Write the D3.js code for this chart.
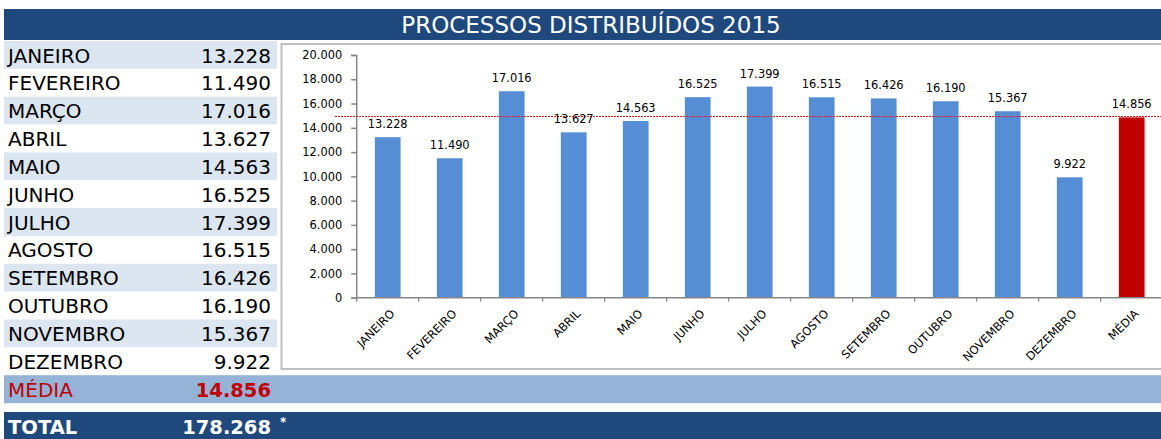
<!DOCTYPE html>
<html>
<head>
<meta charset="utf-8">
<script src="https://cdn.jsdelivr.net/npm/d3@7"></script>
<style>
  body { margin: 0; background: #fff; }
  svg { display: block; font-family: "DejaVu Sans", sans-serif; }
</style>
</head>
<body>
<svg id="chart" width="1161" height="439"></svg>
<script>
// data
const title = "PROCESSOS DISTRIBUÍDOS 2015"
const months = ["JANEIRO", "FEVEREIRO", "MARÇO", "ABRIL", "MAIO", "JUNHO", "JULHO",
  "AGOSTO", "SETEMBRO", "OUTUBRO", "NOVEMBRO", "DEZEMBRO"]
const values = [13228, 11490, 17016, 13627, 14563, 16525, 17399, 16515, 16426, 16190, 15367, 9922]
const mediaLabel = "MÉDIA"
const media = 14856
const total = 178268
const yTicks = [0, 2000, 4000, 6000, 8000, 10000, 12000, 14000, 16000, 18000, 20000]

const br = d3.formatLocale({decimal: ",", thousands: ".", grouping: [3], currency: ["R$", ""]})
const fmt = br.format(",d")

const navy = "#1f497d", light = "#dce6f1", mid = "#95b3d7", blue = "#558ed5", red = "#c00000"

const svg = d3.select("#chart")

// title bar
svg.append("rect").attr("x", 4).attr("y", 9).attr("width", 1157).attr("height", 31).attr("fill", navy)
svg.append("text").attr("x", 591).attr("y", 33).attr("text-anchor", "middle")
  .attr("fill", "#fff").attr("font-size", 23).text(title)

// left table
const rowTop = 41, rowH = 27.85
const table = months.map((m, i) => ({label: m, value: values[i]}))
const rows = svg.append("g").selectAll("g").data(table).enter().append("g")
  .attr("transform", (d, i) => `translate(0, ${rowTop + i * rowH})`)
rows.append("rect").attr("x", 4).attr("width", 273).attr("height", rowH)
  .attr("fill", (d, i) => i % 2 == 0 ? light : "#fff")
rows.append("text").attr("x", 8).attr("y", 21.5).attr("font-size", 20).attr("fill", "#000").text(d => d.label)
rows.append("text").attr("x", 271).attr("y", 21.5).attr("font-size", 20).attr("text-anchor", "end")
  .attr("fill", "#000").text(d => fmt(d.value))

// média row
const mediaY = rowTop + 12 * rowH
svg.append("rect").attr("x", 4).attr("y", mediaY).attr("width", 1157).attr("height", 28).attr("fill", mid)
svg.append("text").attr("x", 8).attr("y", mediaY + 21.5).attr("font-size", 20).attr("fill", red).text(mediaLabel)
svg.append("text").attr("x", 271).attr("y", mediaY + 21.5).attr("font-size", 19.5).attr("font-weight", "bold")
  .attr("text-anchor", "end").attr("fill", red).text(fmt(media))

// total row
svg.append("rect").attr("x", 4).attr("y", 412).attr("width", 1157).attr("height", 27).attr("fill", navy)
svg.append("text").attr("x", 8).attr("y", 433.5).attr("font-size", 19.5).attr("font-weight", "bold")
  .attr("fill", "#fff").text("TOTAL")
svg.append("text").attr("x", 271).attr("y", 433.5).attr("font-size", 19.5).attr("font-weight", "bold")
  .attr("text-anchor", "end").attr("fill", "#fff").text(fmt(total))
svg.append("text").attr("x", 280).attr("y", 426).attr("font-size", 12).attr("font-weight", "bold")
  .attr("fill", "#fff").text("*")

// chart box
svg.append("rect").attr("x", 281.5).attr("y", 44).attr("width", 900).attr("height", 325)
  .attr("fill", "#fff").attr("stroke", "#bfbfbf").attr("stroke-width", 2)

const cats = months.concat([mediaLabel])
const bars = cats.map((c, i) => ({cat: c, value: i < 12 ? values[i] : media, media: i == 12}))

const x = d3.scaleBand().domain(cats).range([356.7, 1162.7]).paddingInner(0.585).paddingOuter(0.2925)
const y = d3.scaleLinear().domain([0, 20000]).range([297.7, 55])

// y axis
const yAxis = svg.append("g").attr("transform", "translate(356.2, 0)")
  .call(d3.axisLeft(y).tickValues(yTicks).tickFormat(fmt).tickSize(5).tickPadding(9))
yAxis.selectAll("path, line").attr("stroke", "#868686").attr("stroke-width", 1.5)
yAxis.selectAll("text").attr("font-size", 11.4).attr("fill", "#000").attr("font-family", "DejaVu Sans")

// bars
svg.append("g").selectAll("rect").data(bars).enter().append("rect")
  .attr("x", d => x(d.cat)).attr("width", x.bandwidth())
  .attr("y", d => y(d.value)).attr("height", d => y(0) - y(d.value))
  .attr("fill", d => d.media ? red : blue)

// average line
const avgY = Math.round(y(media)) - 0.5
svg.append("line").attr("x1", 335).attr("x2", 1161).attr("y1", avgY).attr("y2", avgY)
  .attr("stroke", "#e02020").attr("stroke-width", 1).attr("stroke-dasharray", "2,1")

// value labels
svg.append("g").selectAll("text").data(bars).enter().append("text")
  .attr("x", d => x(d.cat) + x.bandwidth() / 2).attr("y", d => y(d.value) - 9)
  .attr("text-anchor", "middle").attr("font-size", 11.4).attr("fill", "#000")
  .text(d => fmt(d.value))

// x axis
const step = x.step()
svg.append("line").attr("x1", 356.2).attr("x2", 1161).attr("y1", y(0)).attr("y2", y(0))
  .attr("stroke", "#868686").attr("stroke-width", 1.5)
svg.append("g").selectAll("line").data(d3.range(cats.length)).enter().append("line")
  .attr("x1", i => x.range()[0] + i * step).attr("x2", i => x.range()[0] + i * step)
  .attr("y1", y(0)).attr("y2", y(0) + 4).attr("stroke", "#868686").attr("stroke-width", 1.2)
svg.append("g").selectAll("text").data(cats).enter().append("text")
  .attr("transform", d => `translate(${x(d) + x.bandwidth() / 2 + 2}, ${y(0) + 11}) rotate(-45)`)
  .attr("text-anchor", "end").attr("dy", "0.7em").attr("font-size", 11.5).attr("fill", "#000")
  .text(d => d)
</script>
</body>
</html>
